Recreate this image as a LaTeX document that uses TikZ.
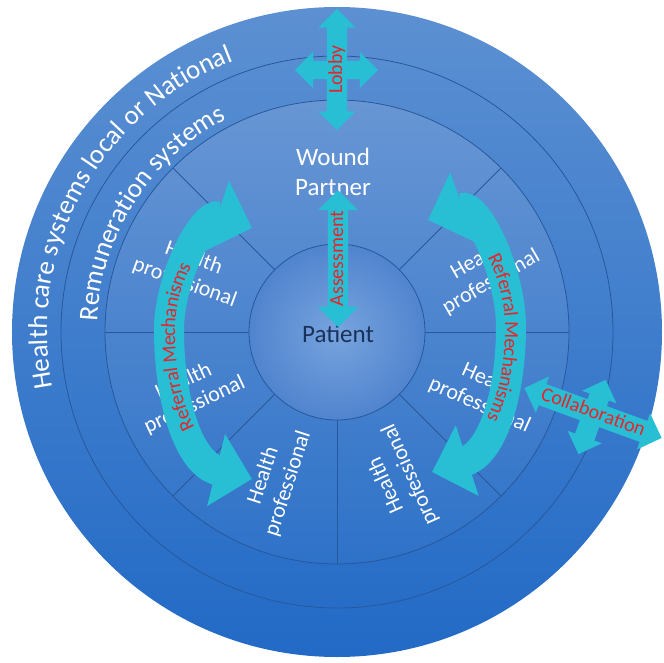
\documentclass[tikz,border=0pt]{standalone}
\usepackage{fontspec}
\setmainfont{Carlito}
\usetikzlibrary{shapes.arrows,arrows.meta,decorations.text}

\definecolor{ringtop}{RGB}{92,144,210}
\definecolor{ringbottom}{RGB}{34,106,198}
\definecolor{ringline}{RGB}{40,88,156}
\definecolor{innertop}{RGB}{104,150,212}
\definecolor{innerbottom}{RGB}{46,114,200}
\definecolor{patientin}{RGB}{120,164,222}
\definecolor{patientout}{RGB}{80,132,206}
\definecolor{arrowcyan}{RGB}{40,190,212}
\definecolor{labelred}{RGB}{228,38,44}
\definecolor{patientnavy}{RGB}{26,50,90}

\begin{document}
\begin{tikzpicture}[x=1pt, y=1pt,
    ringline/.style={draw=ringline, line width=0.8pt},
    hplabel/.style={text=white, align=center, font=\fontsize{22}{26}\selectfont, inner sep=0pt},
    redlabel/.style={text=labelred, font=\fontsize{20}{22}\selectfont},
    blockarrow/.style={double arrow, fill=arrowcyan, double arrow head extend=10pt,
      inner sep=0pt, text height=14pt, text depth=4pt, inner ysep=1pt},
    referral/.style={draw=arrowcyan, line width=30pt,
      {Triangle[length=37pt, width=72pt]}-{Triangle[length=37pt, width=72pt]}}
  ]
\useasboundingbox (-337,-330) rectangle (327,332);

% rings
\shade[top color=ringtop, bottom color=ringbottom] (0,0) circle (325);
\draw[ringline] (0,0) circle (276);
\shadedraw[top color=innertop, bottom color=innerbottom, ringline] (0,0) circle (232);
\foreach \a in {0,45,135,180,225,270,315}
  \draw[ringline] (\a:88) -- (\a:232);
\shadedraw[inner color=patientin, outer color=patientout, ringline] (0,0) circle (88);

% ring texts
\path[decorate, decoration={text along path, text align=center,
    text={|\fontsize{27}{30}\selectfont\color{white}|Health care systems local or National}}]
  (201:290) arc[start angle=201, end angle=101, radius=290];
\path[decorate, decoration={text along path, text align=center,
    text={|\fontsize{27}{30}\selectfont\color{white}|Remuneration systems}}]
  (187:240) arc[start angle=187, end angle=108, radius=240];

% sectors
\node[text=white, align=center, font=\fontsize{25}{30}\selectfont] (wound) at (-4,160) {Wound\\Partner};
\foreach \ang/\rot [count=\i] in {157.5/-20, 202.5/25, 247.5/72, 292.5/114, 337.5/-24, 22.5/30}
  \node[hplabel, rotate=\rot] (hp\i) at (\ang:160) {Health\\professional};
\node[text=patientnavy, font=\fontsize{25}{30}\selectfont] (patient) at (1,-2) {Patient};

% lobby
\node[blockarrow, minimum height=83pt, double arrow head extend=9pt,
  text height=0pt, text depth=0pt, inner ysep=9pt] (lobbyh) at (-0.5,262) {};
\node[blockarrow, redlabel, rotate=90, minimum height=121pt, double arrow head extend=8.5pt] (lobby) at (0,262.5) {Lobby};

% assessment
\node[blockarrow, redlabel, rotate=90, minimum height=137pt] (assess) at (1,73.5) {Assessment};

% referral mechanisms
\coordinate (refLtop) at (-85,104);
\coordinate (refLmid) at (-168,2);
\coordinate (refLbot) at (-85,-147);
\draw[referral] (refLtop) to[out=161, in=90] (refLmid) to[out=270, in=166] (refLbot);
\path[decorate, decoration={text along path, text align=center, raise=-6pt,
    text={|\fontsize{20}{22}\selectfont\color{labelred}|Referral Mechanisms}}]
  (refLbot) to[out=166, in=270] (refLmid) to[out=90, in=161] (refLtop);

\coordinate (refRtop) at (91,112);
\coordinate (refRmid) at (174,5);
\coordinate (refRbot) at (95,-140);
\draw[referral] (refRtop) to[out=20, in=90] (refRmid) to[out=270, in=18] (refRbot);
\path[decorate, decoration={text along path, text align=center, raise=-6pt,
    text={|\fontsize{20}{22}\selectfont\color{labelred}|Referral Mechanisms}}]
  (refRtop) to[out=20, in=90] (refRmid) to[out=270, in=18] (refRbot);

% collaboration
\node[blockarrow, rotate=70, minimum height=79pt, double arrow head extend=8pt,
  text height=0pt, text depth=0pt, inner ysep=10pt] (collabv) at (255,-85) {};
\node[blockarrow, redlabel, rotate=-20, minimum height=146pt, double arrow head extend=8pt,
  text height=15pt, text depth=5pt] (collab) at (256,-81) {Collaboration};
\end{tikzpicture}
\end{document}
